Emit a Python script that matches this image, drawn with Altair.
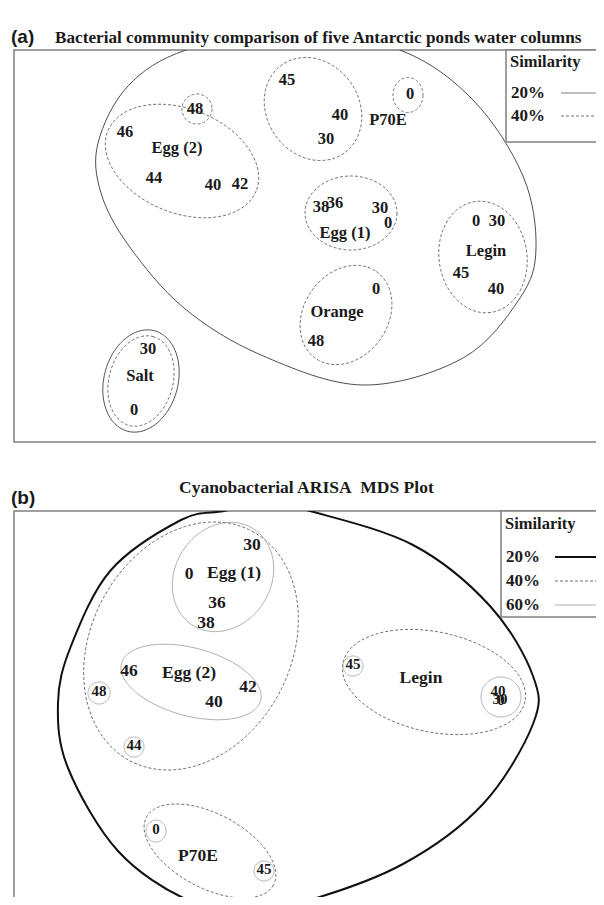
import numpy as np
import pandas as pd
import altair as alt

W = 600
HA = 392
HB = 400

# ---------------- Panel (a) data ----------------
a_title = "Bacterial community comparison of five Antarctic ponds water columns"
a_labels = ["45", "40", "30", "P70E", "0", "48", "46", "Egg (2)", "44", "40", "42",
            "38", "36", "30", "0", "Egg (1)", "0", "30", "Legin", "45", "40",
            "0", "Orange", "48", "30", "Salt", "0"]
a_lx = [273, 326, 312, 374, 396, 181, 111, 163, 140, 199, 226,
        307, 321, 366, 374, 331, 462, 483, 472, 447, 482,
        362, 323, 302, 134, 126, 120]
a_ly = [32, 67, 91, 72, 46, 61, 84, 100, 130, 137, 136,
        159, 155, 160, 175, 185, 173, 173, 203, 225, 241,
        241, 264, 293, 301, 328, 362]

a_ell_cx = [168, 183, 299, 394, 337, 469, 332, 127, 127]
a_ell_cy = [111, 59, 59, 45, 163, 207, 265, 331, 331]
a_ell_a = [80, 15, 54, 15, 46, 56, 53, 52, 46]
a_ell_b = [52, 15, 46, 17.5, 37, 44, 42, 37, 32]
a_ell_ang = [22, 0, 55, 0, 0, 82, -55, -75, -75]
a_ell_lvl = ["40%", "40%", "40%", "40%", "40%", "40%", "40%", "20%", "40%"]

a_hull_x = [277, 386, 459, 509, 522, 506, 449, 349, 247, 170, 115, 87, 84, 114, 172]
a_hull_y = [-20, 0, 50, 126, 198, 248, 308, 335, 305, 258, 196, 143, 93, 36, 0]

a_levels = ["20%", "40%"]

# ---------------- Panel (b) data ----------------
b_title = "Cyanobacterial ARISA\u00a0 MDS Plot"
b_labels = ["30", "0", "Egg (1)", "36", "38", "46", "Egg (2)", "42", "40", "48", "44",
            "45", "Legin", "40", "30", "0", "0", "P70E", "45"]
b_kind = ["n", "n", "n", "n", "n", "n", "n", "n", "n", "c", "c",
          "c", "n", "c", "c", "c", "c", "n", "c"]
b_lx = [238, 175, 220, 203, 192, 115, 175, 234, 200, 85, 120,
        339, 407, 484, 486, 487, 142, 184, 250]
b_ly = [36, 65, 64, 94, 114, 162, 164, 178, 193, 182, 236,
        155, 169, 182, 190, 191, 320, 347, 360]

b_ell_cx = [177, 209, 177, 85, 120, 420, 487, 339, 196, 142, 250]
b_ell_cy = [135, 66, 171, 182, 236, 171, 186, 155, 340, 320, 360]
b_ell_a = [130, 57, 72, 11, 10, 93, 20, 10, 72, 10, 10]
b_ell_b = [100, 48, 34, 11, 10, 50, 20, 10, 37, 11, 10]
b_ell_ang = [-62, -58, 15, 0, 0, 12, 0, 0, 28, 0, 0]
b_ell_lvl = ["40%", "60%", "60%", "60%", "60%", "40%", "60%", "60%", "40%", "60%", "60%"]

b_hull_x = [253, 296, 399, 476, 519, 519, 469, 389, 289, 237, 174, 104, 54, 44, 57, 97, 167, 210]
b_hull_y = [-8, 0, 34, 95, 165, 213, 293, 353, 391, 397, 389, 340, 257, 192, 135, 59, 9, 0]

b_levels = ["20%", "40%", "60%"]

# ---------------- styles ----------------
TXT = "#1a1a1a"
SERIF = "Liberation Serif"
DY = -2
style_a = {
    "20%": dict(color="#3a3a3a", strokeWidth=0.9),
    "40%": dict(color="#4a4a4a", strokeWidth=0.8, strokeDash=[3, 2]),
}
legend_style_a = {
    "20%": dict(color="#808080", strokeWidth=1.0),
    "40%": dict(color="#4a4a4a", strokeWidth=0.8, strokeDash=[3, 2]),
}
style_b = {
    "20%": dict(color="#111111", strokeWidth=2.0),
    "40%": dict(color="#4a4a4a", strokeWidth=0.8, strokeDash=[3, 2]),
    "60%": dict(color="#9a9a9a", strokeWidth=0.8),
}


def ellipse_df(cx, cy, a, b, ang, lvl):
    rows = []
    t = np.linspace(0, 2 * np.pi, 161)
    for i, (x0, y0, aa, bb, th, lv) in enumerate(zip(cx, cy, a, b, ang, lvl)):
        th = np.deg2rad(th)
        xs = x0 + aa * np.cos(t) * np.cos(th) - bb * np.sin(t) * np.sin(th)
        ys = y0 + aa * np.cos(t) * np.sin(th) + bb * np.sin(t) * np.cos(th)
        for k, (x, y) in enumerate(zip(xs, ys)):
            rows.append(dict(id=i, k=k, x=float(x), y=float(y), level=lv))
    return pd.DataFrame(rows)


def panel(H, title, title_x, title_y, title_size, tag, labels, lx, ly, kinds,
          ell, hull_x, hull_y, styles, hull_style, levels, lstyles,
          box_x, box_h, sim_y, row_y0, row_gap, line_x0, line_x1, num_size, circ_size):
    X = alt.X("x:Q", scale=alt.Scale(domain=[0, W], nice=False, zero=False), axis=None)
    Y = alt.Y("y:Q", scale=alt.Scale(domain=[0, H], nice=False, zero=False, reverse=True), axis=None)
    layers = []

    hull = pd.DataFrame({"x": hull_x, "y": hull_y, "k": list(range(len(hull_x)))})
    layers.append(alt.Chart(hull).mark_line(interpolate="cardinal-closed", clip=True,
                                            **hull_style).encode(x=X, y=Y, order="k:Q"))

    for lv in styles:
        sub = ell[ell["level"] == lv]
        if len(sub) == 0:
            continue
        layers.append(alt.Chart(sub).mark_line(clip=True, **styles[lv]).encode(
            x=X, y=Y, detail="id:N", order="k:Q"))

    lab = pd.DataFrame({"x": lx, "y": ly, "t": labels, "kind": kinds})
    layers.append(alt.Chart(lab[lab["kind"] == "n"]).mark_text(
        font=SERIF, fontWeight="bold", fontSize=num_size, color=TXT, dy=DY,
        align="center", baseline="middle").encode(x=X, y=Y, text="t:N"))
    if (lab["kind"] == "c").any():
        layers.append(alt.Chart(lab[lab["kind"] == "c"]).mark_text(
            font=SERIF, fontWeight="bold", fontSize=circ_size, color=TXT, dy=DY,
            align="center", baseline="middle").encode(x=X, y=Y, text="t:N"))

    # legend box
    box = pd.DataFrame({"x": [box_x], "x2": [W], "y": [0], "y2": [box_h]})
    layers.append(alt.Chart(box).mark_rect(fill="white", stroke="#808080", strokeWidth=1.5).encode(
        x=X, x2="x2:Q", y=Y, y2="y2:Q"))
    simt = pd.DataFrame({"x": [box_x + 4], "y": [sim_y], "t": ["Similarity"]})
    layers.append(alt.Chart(simt).mark_text(font=SERIF, fontWeight="bold", fontSize=16.5, color=TXT, dy=DY,
                                            align="left", baseline="middle").encode(x=X, y=Y, text="t:N"))
    for i, lv in enumerate(levels):
        yy = row_y0 + i * row_gap
        lt = pd.DataFrame({"x": [box_x + 5], "y": [yy], "t": [lv]})
        layers.append(alt.Chart(lt).mark_text(font=SERIF, fontWeight="bold", fontSize=17, color=TXT, dy=DY,
                                              align="left", baseline="middle").encode(x=X, y=Y, text="t:N"))
        ln = pd.DataFrame({"x": [line_x0], "x2": [line_x1], "y": [yy - 2]})
        layers.append(alt.Chart(ln).mark_rule(**lstyles[lv]).encode(x=X, x2="x2:Q", y=Y))

    tagdf = pd.DataFrame({"t": [tag], "title": [title]})
    layers.append(alt.Chart(tagdf).mark_text(font="Liberation Sans", fontWeight="bold", fontSize=19,
                                             color=TXT, align="left", baseline="alphabetic").encode(
        x=alt.value(-3), y=alt.value(-7), text="t:N"))
    layers.append(alt.Chart(tagdf).mark_text(font=SERIF, fontWeight="bold", fontSize=title_size,
                                             color=TXT, align="left", baseline="middle", dy=DY).encode(
        x=alt.value(title_x), y=alt.value(title_y), text="title:N"))

    return alt.layer(*layers).properties(width=W, height=H)


ell_a = ellipse_df(a_ell_cx, a_ell_cy, a_ell_a, a_ell_b, a_ell_ang, a_ell_lvl)
ell_b = ellipse_df(b_ell_cx, b_ell_cy, b_ell_a, b_ell_b, b_ell_ang, b_ell_lvl)

pa = panel(HA, a_title, 41, -10, 17.2, "(a)", a_labels, a_lx, a_ly, ["n"] * len(a_labels),
           ell_a, a_hull_x, a_hull_y, style_a, style_a["20%"], a_levels, legend_style_a,
           492, 92, 14, 45, 23, 547, W, 16.5, 16.5)
pb = panel(HB, b_title, 165, -21, 17.5, "(b)", b_labels, b_lx, b_ly, b_kind,
           ell_b, b_hull_x, b_hull_y, style_b, style_b["20%"], b_levels, style_b,
           487, 106, 15, 48, 24, 541, 586, 17.5, 15)

chart = alt.vconcat(pa, pb, spacing=35).properties(
    padding={"left": 2, "top": 19, "right": -20, "bottom": -15}
).configure_view(stroke="#808080", strokeWidth=1.5)

chart.save("out.html", embed_options={"renderer": "svg", "actions": False})
